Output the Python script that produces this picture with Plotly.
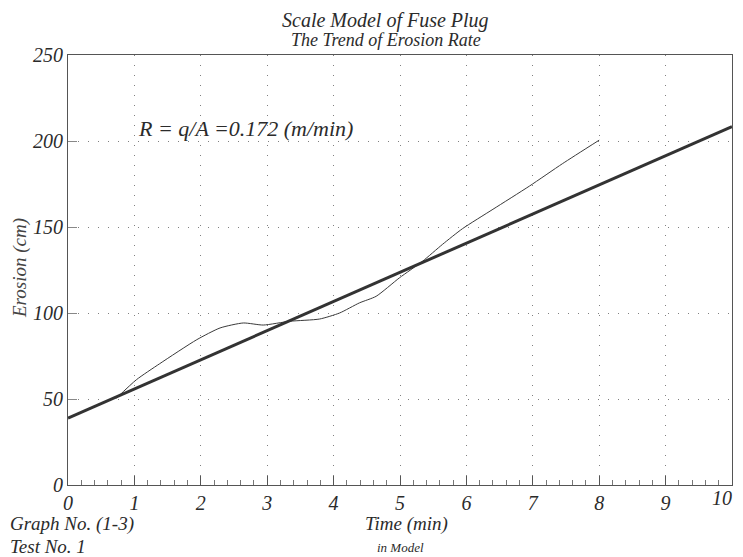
import plotly.graph_objects as go

# Measured erosion curve (Time in min, Erosion in cm)
time_min = [0.73, 1.03, 1.38, 1.94, 2.29, 2.64, 2.94, 3.34, 3.79, 4.09, 4.39,
            4.64, 4.99, 5.34, 5.64, 5.94, 6.40, 6.95, 7.45, 8.00]
erosion_cm = [50.5, 61.2, 70.5, 84.5, 91.3, 94.2, 93.0, 95.2, 96.5, 100.0, 105.9,
              109.7, 120.4, 130.1, 139.9, 149.0, 160.3, 173.8, 186.9, 200.5]

# Trend line (fit)
fit_time = [0, 10]
fit_erosion = [38.9, 208.4]

x_ticks = [0, 1, 2, 3, 4, 5, 6, 7, 8, 9, 10]
y_ticks = [0, 50, 100, 150, 200, 250]

SERIF = "Liberation Serif, Times New Roman, serif"
INK = "#2b2b2b"

# page body has an 8px default margin; plot area should land at screen x 68..732, y 55..485
OFF = 8
L, R, T, B = 68, 732, 55, 485

fig = go.Figure()
fig.add_trace(go.Scatter(x=time_min, y=erosion_cm, mode="lines",
                         line=dict(color="#3a3a3a", width=1, shape="spline", smoothing=0.6),
                         showlegend=False, hoverinfo="skip"))
fig.add_trace(go.Scatter(x=fit_time, y=fit_erosion, mode="lines",
                         line=dict(color="#333333", width=3),
                         showlegend=False, hoverinfo="skip"))

W, H = 743 - OFF, 557 - OFF
fig.update_layout(
    width=W, height=H,
    margin=dict(l=L - OFF, r=W - (R - OFF), t=T - OFF, b=H - (B - OFF), pad=0,
                autoexpand=False),
    paper_bgcolor="white", plot_bgcolor="white",
    font=dict(family=SERIF, color=INK, style="italic"),
    showlegend=False,
)
GRID_DASH = "1px,9px"
TICKFONT = dict(family=SERIF, size=20, color=INK, style="italic")
# last label (10) sits at the very edge; it is drawn separately so it is not clipped
x_ticktext = [str(v) for v in x_ticks[:-1]] + [""]
fig.update_xaxes(
    range=[0, 10], tickvals=x_ticks, ticktext=x_ticktext,
    showline=True, linecolor="#555555", linewidth=1.2, mirror=True,
    ticks="inside", ticklen=9, tickcolor="#555555", tickwidth=1,
    minor=dict(dtick=0.2, ticks="inside", ticklen=5, tickcolor="#777777", showgrid=False),
    showgrid=True, gridcolor="#808080", griddash=GRID_DASH, gridwidth=1,
    tickfont=TICKFONT,
    zeroline=False, fixedrange=True, automargin=False,
)
fig.update_yaxes(
    range=[0, 250], tickvals=y_ticks, ticktext=[str(v) for v in y_ticks],
    showline=True, linecolor="#555555", linewidth=1.2, mirror=True,
    ticks="inside", ticklen=9, tickcolor="#888888", tickwidth=1,
    showgrid=True, gridcolor="#808080", griddash=GRID_DASH, gridwidth=1,
    tickfont=TICKFONT,
    zeroline=False, fixedrange=True, automargin=False,
)

PW, PH = R - L, B - T


def px(xs):
    return (xs - L) / PW


def py(ys):
    return (B - ys) / PH


fig.add_annotation(text=str(x_ticks[-1]), xref="paper", yref="paper",
                   x=px(734), y=py(498), xanchor="right", yanchor="middle",
                   showarrow=False, font=TICKFONT)

annots = [
    dict(text="Scale Model of Fuse Plug", x=385, y=20, size=20),
    dict(text="The Trend of Erosion Rate", x=386, y=40, size=18),
    dict(text="Time (min)", x=406, y=524, size=19),
    dict(text="in Model", x=400, y=547, size=13),
]
for a in annots:
    fig.add_annotation(text=a["text"], xref="paper", yref="paper",
                       x=px(a["x"]), y=py(a["y"]),
                       xanchor="center", yanchor="middle", showarrow=False,
                       font=dict(family=SERIF, size=a["size"], color=INK, style="italic"))
for txt, yy in [("Graph No. (1-3)", 524), ("Test No. 1", 546)]:
    fig.add_annotation(text=txt, xref="paper", yref="paper",
                       x=px(8), y=py(yy),
                       xanchor="left", yanchor="middle", showarrow=False,
                       font=dict(family=SERIF, size=19, color=INK, style="italic"))
fig.add_annotation(text="Erosion (cm)", xref="paper", yref="paper",
                   x=px(20), y=py(268), textangle=-90,
                   xanchor="center", yanchor="middle", showarrow=False,
                   font=dict(family=SERIF, size=19, color="#444444", style="italic"))
fig.add_annotation(text="R = q/A =0.172 (m/min)", xref="x", yref="y",
                   x=1.02, y=207.5, xanchor="left", yanchor="middle", showarrow=False,
                   font=dict(family=SERIF, size=22, color=INK, style="italic"))

fig.write_html("out.html")
